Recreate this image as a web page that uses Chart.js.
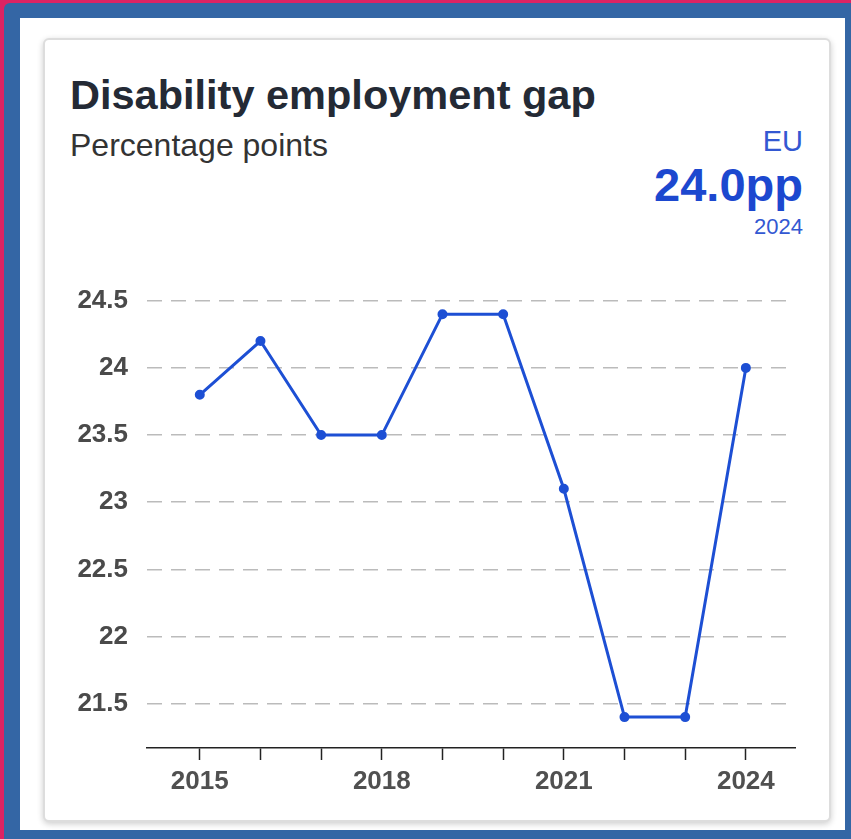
<!DOCTYPE html>
<html>
<head>
<meta charset="utf-8">
<script src="https://cdn.jsdelivr.net/npm/chart.js@4"></script>
<style>
    body { margin: 0; width: 851px; height: 839px; background: #dc2363; position: relative; overflow: hidden; font-family: "Liberation Sans", Arial, sans-serif; }
    .frame { position: absolute; left: 4px; top: 3px; width: 847px; height: 836px; background: #3466a5; border-top-left-radius: 6px; }
    .inner { position: absolute; left: 20px; top: 18px; width: 825px; height: 812px; background: #fff; }
    .card { position: absolute; left: 43px; top: 38px; width: 784px; height: 780px; border: 2px solid #ddd; border-radius: 6px; background: #fff; box-shadow: 0 2px 6px rgba(0,0,0,0.2); }
    .title { position: absolute; left: 70px; top: 71px; font-size: 41.5px; font-weight: bold; color: #242a35; white-space: nowrap; }
    .subtitle { position: absolute; left: 70px; top: 127px; font-size: 32px; color: #333; white-space: nowrap; }
    .kpi { position: absolute; right: 48px; top: 124px; text-align: right; color: #1c48cf; }
    .kpi .geo { font-size: 29px; color: #3358d2; line-height: 34px; }
    .kpi .val { font-size: 47px; font-weight: bold; line-height: 54px; }
    .kpi .yr { font-size: 22px; color: #3358d2; line-height: 30px; }
    #chart-box { position: absolute; left: 60px; top: 270px; width: 750px; height: 540px; }
</style>
</head>
<body>
<div class="frame"></div>
<div class="inner"></div>
<div class="card"></div>
<div class="title">Disability employment gap</div>
<div class="subtitle">Percentage points</div>
<div class="kpi">
    <div class="geo">EU</div>
    <div class="val">24.0pp</div>
    <div class="yr">2024</div>
</div>
<div id="chart-box"><canvas id="gapChart"></canvas></div>

<script>
// Donnees
const years = [2015, 2016, 2017, 2018, 2019, 2020, 2021, 2022, 2023, 2024];
const gapValues = [23.8, 24.2, 23.5, 23.5, 24.4, 24.4, 23.1, 21.4, 21.4, 24.0];
const yTickValues = [21.5, 22, 22.5, 23, 23.5, 24, 24.5];
const xLabelYears = [2015, 2018, 2021, 2024];

const lineBlue = '#1d4fd4';
const tickFont = { family: '"Liberation Sans", Arial, sans-serif', size: 26, weight: 'bold' };

document.addEventListener('DOMContentLoaded', function () {
    const ctx = document.getElementById('gapChart');
    new Chart(ctx, {
        type: 'line',
        data: {
            datasets: [{
                label: 'Disability employment gap',
                data: years.map((y, i) => ({ x: y, y: gapValues[i] })),
                borderColor: lineBlue,
                backgroundColor: lineBlue,
                borderWidth: 3,
                pointRadius: 3.5,
                pointHoverRadius: 3.5,
                tension: 0
            }]
        },
        options: {
            responsive: true,
            maintainAspectRatio: false,
            animation: false,
            layout: { padding: { top: 20, right: 15, left: 0, bottom: 0 } },
            plugins: {
                legend: { display: false },
                tooltip: { enabled: false }
            },
            scales: {
                x: {
                    type: 'linear',
                    min: 2014.13,
                    max: 2024.81,
                    afterBuildTicks: scale => { scale.ticks = years.map(v => ({ value: v })); },
                    afterFit: scale => { scale.height = 62; },
                    ticks: {
                        autoSkip: false,
                        maxRotation: 0,
                        padding: 6,
                        color: '#505050',
                        font: tickFont,
                        callback: v => xLabelYears.includes(v) ? String(v) : ''
                    },
                    grid: {
                        drawOnChartArea: false,
                        drawTicks: true,
                        tickLength: 12,
                        tickColor: '#222',
                        tickWidth: 1.5
                    },
                    border: { color: '#222', width: 1.5 }
                },
                y: {
                    min: 21.17,
                    max: 24.58,
                    afterBuildTicks: scale => { scale.ticks = yTickValues.map(v => ({ value: v })); },
                    afterFit: scale => { scale.width = 87; },
                    ticks: {
                        padding: 0,
                        color: '#4a4a4a',
                        font: tickFont,
                        callback: v => String(v)
                    },
                    grid: {
                        drawTicks: true,
                        tickLength: 19,
                        tickColor: 'rgba(0,0,0,0)',
                        color: '#bbbbbb',
                        lineWidth: 1.5
                    },
                    border: { display: false, dash: [15, 9] }
                }
            }
        }
    });
});
</script>
</body>
</html>
